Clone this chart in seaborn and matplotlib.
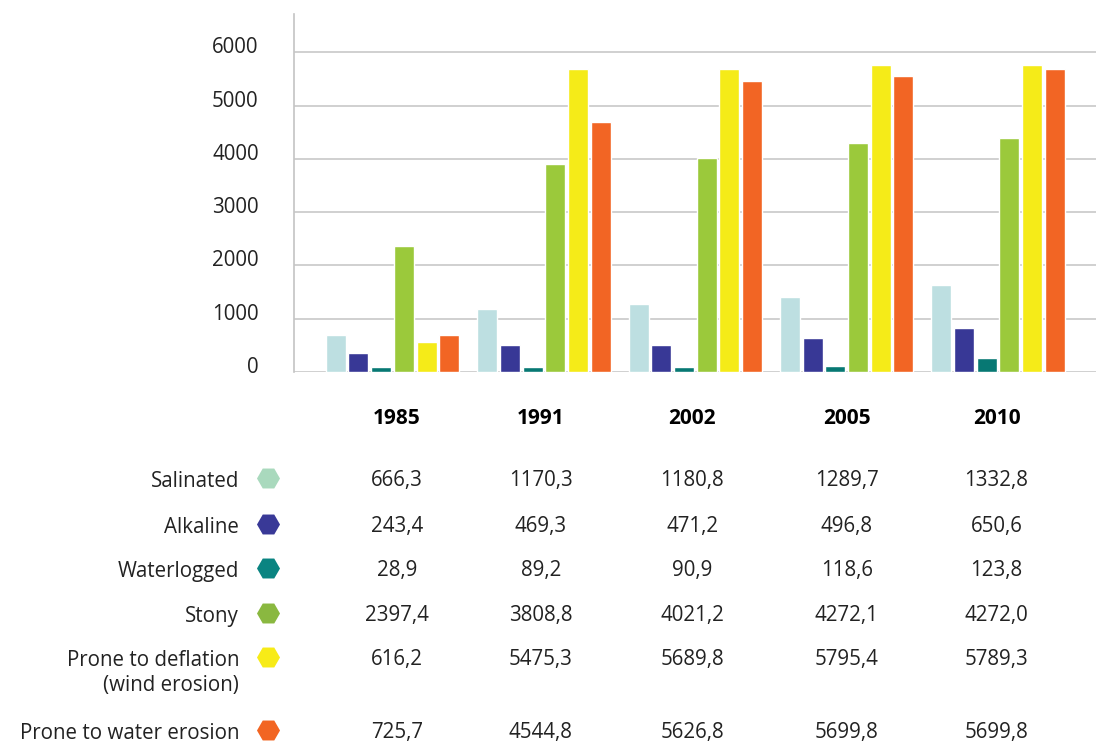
"""
Degraded land by type, 1985-2010: grouped bars with a value table underneath.
"""

import numpy as np
import pandas as pd
import seaborn as sns
import matplotlib.pyplot as plt
from matplotlib import transforms

years = ['1985', '1991', '2002', '2005', '2010']
land_types = ['Salinated', 'Alkaline', 'Waterlogged', 'Stony',
              'Prone to deflation\n(wind erosion)', 'Prone to water erosion']

# bar heights as drawn in the chart
salinated = [688, 1176, 1270, 1402, 1627]
alkaline = [350, 501, 501, 632, 820]
waterlogged = [88, 88, 88, 106, 257]
stony = [2359, 3899, 4011, 4293, 4387]
deflation = [557, 5682, 5682, 5757, 5757]
water_erosion = [688, 4687, 5457, 5551, 5682]

# figures printed in the table below the chart
salinated_txt = ['666,3', '1170,3', '1180,8', '1289,7', '1332,8']
alkaline_txt = ['243,4', '469,3', '471,2', '496,8', '650,6']
waterlogged_txt = ['28,9', '89,2', '90,9', '118,6', '123,8']
stony_txt = ['2397,4', '3808,8', '4021,2', '4272,1', '4272,0']
deflation_txt = ['616,2', '5475,3', '5689,8', '5795,4', '5789,3']
water_erosion_txt = ['725,7', '4544,8', '5626,8', '5699,8', '5699,8']

bar_colors = ['#BDDFE1', '#383896', '#077873', '#9BC93B', '#F5EB18', '#F26524']
hex_colors = ['#A9D9BD', '#393997', '#0A8481', '#8AB840', '#F7EB17', '#F26522']

series = [salinated, alkaline, waterlogged, stony, deflation, water_erosion]
table = [salinated_txt, alkaline_txt, waterlogged_txt, stony_txt,
         deflation_txt, water_erosion_txt]

df = pd.DataFrame({
    'year': years * len(land_types),
    'type': np.repeat(land_types, len(years)),
    'area': np.concatenate(series),
})

sns.set_style('white')
plt.rcParams['font.family'] = ['Open Sans', 'DejaVu Sans']

fig = plt.figure(figsize=(10.96, 7.43), dpi=100)
W, H = 1096, 743
ax = fig.add_axes([294 / W, 371 / H, 802 / W, 358 / H])

sns.barplot(data=df, x='year', y='area', hue='type', hue_order=land_types,
            palette=bar_colors, width=0.9, gap=0.12, saturation=1,
            legend=False, ax=ax)

ax.set_xlim(-0.651, 4.647)
ax.set_ylim(0, 6720)
ax.set_yticks(range(0, 7000, 1000))
ax.yaxis.grid(True, color='#c8c8c8', linewidth=1.2)
ax.set_axisbelow(True)
for side in ['top', 'right', 'bottom']:
    ax.spines[side].set_visible(False)
ax.spines['left'].set_color('#c4c4c4')
ax.spines['left'].set_linewidth(1.2)
ax.tick_params(axis='y', length=9.4, width=1.2, color='#c8c8c8', pad=16,
               labelsize=14.8, labelcolor='#222222')
ax.tick_params(axis='x', bottom=False, labelbottom=False)
ax.set_xlabel('')
ax.set_ylabel('')

# tick labels sit a little above their gridlines
lift = transforms.ScaledTranslation(0, 0.07, fig.dpi_scale_trans)
for lbl in ax.get_yticklabels():
    lbl.set_transform(lbl.get_transform() + lift)

# table under the chart
tab = fig.add_axes([294 / W, 0, 802 / W, 371 / H])
tab.set_xlim(ax.get_xlim())
tab.set_ylim(5.89, -2.36)
tab.axis('off')

col_x = [0.03, 0.98, 1.98, 3.0, 3.99]
row_y = [0, 1.02, 2.0, 3.0, 3.98, 5.6]
header_y = -1.33
label_x = -1.014
marker_x = -0.823

for x, year in zip(col_x, years):
    tab.text(x, header_y, year, ha='center', va='center', fontsize=15,
             fontweight='bold', color='black')

for y, name, color, values in zip(row_y, land_types, hex_colors, table):
    for k, line in enumerate(name.split('\n')):
        tab.text(label_x, y + 0.07 + 0.56 * k, line, ha='right', va='center',
                 fontsize=14.8, color='#222222')
    tab.scatter([marker_x], [y], marker='H', s=275, color=color,
                linewidths=0, clip_on=False)
    for x, v in zip(col_x, values):
        tab.text(x, y + 0.05, v, ha='center', va='center', fontsize=14.8,
                 color='#222222')

fig.savefig('out.png', dpi=100)
